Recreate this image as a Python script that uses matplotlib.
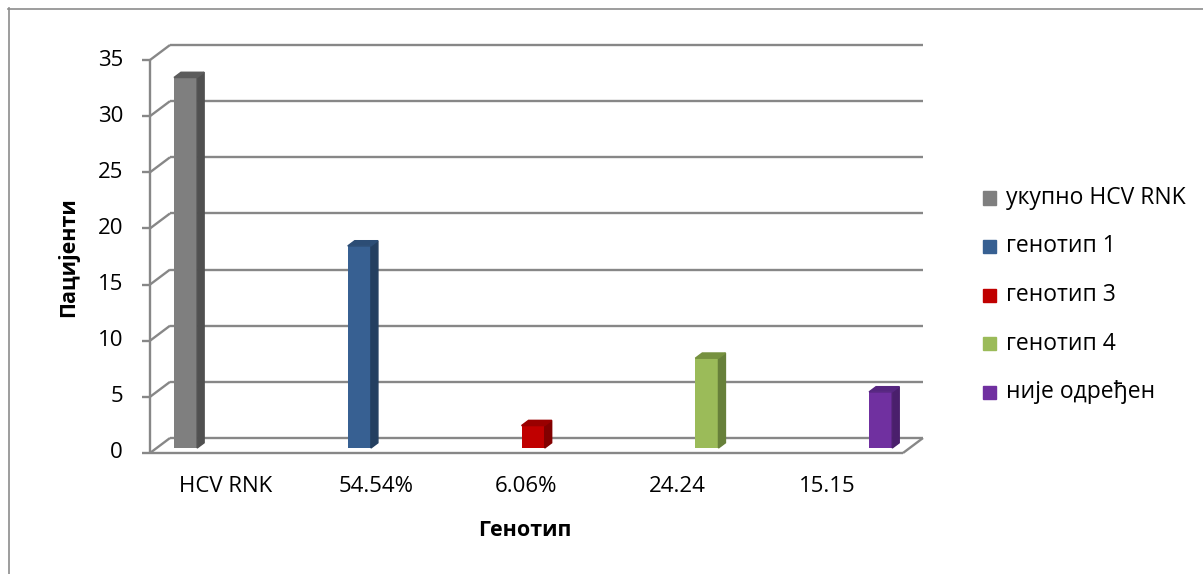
import matplotlib
matplotlib.use("Agg")
import matplotlib.pyplot as plt
from matplotlib.patches import Polygon, Rectangle
from matplotlib.lines import Line2D

plt.rcParams['font.family'] = ['Open Sans', 'DejaVu Sans']

# Подаци: категорије, серије и број пацијената
categories = ['HCV RNK', '54.54%', '6.06%', '24.24', '15.15']
series = ['укупно HCV RNK', 'генотип 1', 'генотип 3', 'генотип 4', 'није одређен']
values = [33, 18, 2, 8, 5]
y_ticks = list(range(0, 40, 5))

front_colors = ['#7f7f7f', '#376092', '#c00000', '#9bbb59', '#7030a0']
side_colors = ['#505050', '#243f60', '#820000', '#67803a', '#4a1f6c']
top_colors = ['#5c5c5c', '#2c4d75', '#9a0000', '#76913f', '#562680']

W, H = 1203, 574
GRID = '#878787'
FS = 16

fig = plt.figure(figsize=(W / 100, H / 100), dpi=100)
# оса покрива задњи зид графикона
ax = fig.add_axes([170 / W, (H - 438) / H, 753 / W, 393 / H])
ax.set_xlim(-0.5, 4.5)
ax.set_ylim(0, 35)
ax.axis('off')

px_x = 753 / 5      # пиксела по категорији
px_y = 393 / 35     # пиксела по јединици
DX = -20 / px_x     # помак дубине (назад -> напред)
DY = -15 / px_y

grid_kw = dict(color=GRID, lw=1.7, clip_on=False, solid_capstyle='butt', zorder=1)

x0 = -0.5 + DX
for v in y_ticks:
    ax.plot([-0.5, 4.5], [v, v], **grid_kw)
    ax.plot([-0.5, x0], [v, v + DY], **grid_kw)
    ax.plot([x0 - 8 / px_x, x0], [v + DY, v + DY], **grid_kw)
    ax.text(x0 - 27 / px_x, v + DY, str(v), ha='right', va='center', fontsize=FS)

# под и предња вертикална оса
ax.plot([x0, 4.5 + DX], [DY, DY], **grid_kw)
ax.plot([4.5, 4.5 + DX], [0, DY], **grid_kw)
ax.plot([x0, x0], [DY, 35 + DY], **grid_kw)

# стубови у 3D изгледу
w = 1 / 6.5
f_front, f_back = 0.67, 0.32
ddx = (f_back - f_front) * DX
ddy = (f_back - f_front) * DY
for j, v in enumerate(values):
    xc = j + (j - 2) * w
    xf = xc - w / 2 + f_front * DX
    yb = f_front * DY
    ax.bar(xf, v, width=w, bottom=yb, align='edge', color=front_colors[j],
           zorder=3, clip_on=False)
    side = [(xf + w, yb), (xf + w, yb + v), (xf + w + ddx, yb + v + ddy), (xf + w + ddx, yb + ddy)]
    top = [(xf, yb + v), (xf + w, yb + v), (xf + w + ddx, yb + v + ddy), (xf + ddx, yb + v + ddy)]
    ax.add_patch(Polygon(side, closed=True, color=side_colors[j], zorder=3, clip_on=False))
    ax.add_patch(Polygon(top, closed=True, color=top_colors[j], zorder=3, clip_on=False))

for i, cat in enumerate(categories):
    ax.text(i + DX, -49 / px_y, cat, ha='center', va='center', fontsize=FS)

fig.text(525 / W, 1 - 530 / H, 'Генотип', ha='center', va='center', fontsize=15.5, weight='bold')
fig.text(68 / W, 1 - 257 / H, 'Пацијенти', ha='center', va='center', fontsize=15.5,
         weight='bold', rotation=90)

# легенда
for k, name in enumerate(series):
    yk = 198 + 48.5 * k
    fig.add_artist(Rectangle((983 / W, 1 - (yk + 6.5) / H), 13 / W, 13 / H,
                             transform=fig.transFigure, color=front_colors[k]))
    fig.text(1006 / W, 1 - yk / H, name, ha='left', va='center', fontsize=16.5)

# оквир графикона
fig.add_artist(Line2D([8.5 / W, 8.5 / W], [0, 1 - 8 / H], color='#8c8c8c', lw=1.2,
                      transform=fig.transFigure))
fig.add_artist(Line2D([8 / W, 1], [1 - 8.5 / H, 1 - 8.5 / H], color='#8c8c8c', lw=1.2,
                      transform=fig.transFigure))

fig.savefig('out.png', dpi=100, facecolor='white')
